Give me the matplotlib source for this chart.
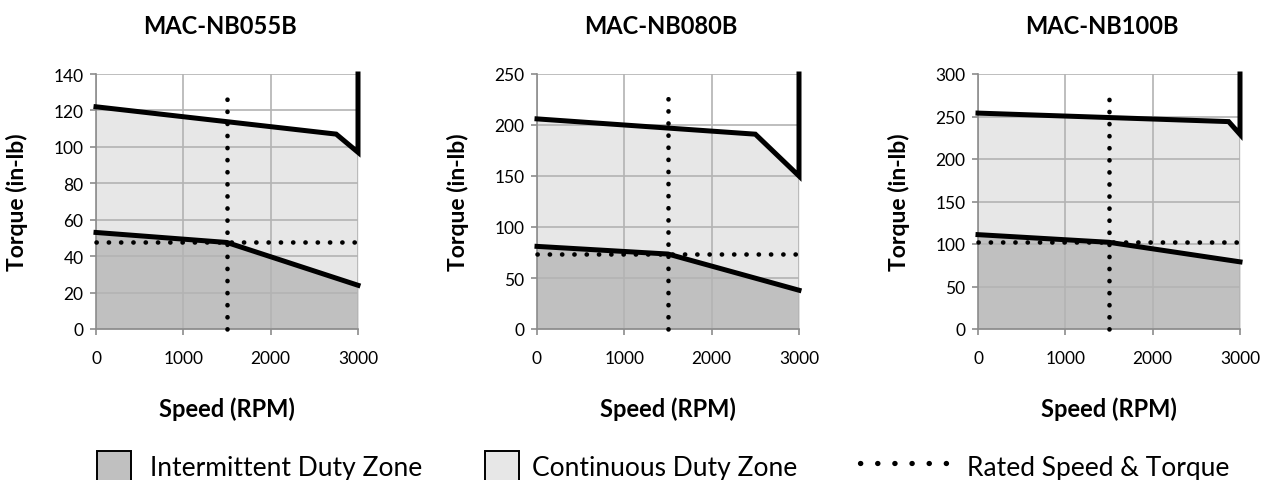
import numpy as np
import matplotlib
matplotlib.use("Agg")
import matplotlib.pyplot as plt
from matplotlib.patches import Patch
from matplotlib.lines import Line2D

plt.rcParams["font.family"] = ["Lato", "DejaVu Sans"]

# ---- data ----
titles = ["MAC-NB055B", "MAC-NB080B", "MAC-NB100B"]
y_max = [140, 250, 300]
y_step = [20, 50, 50]
x_ticks = [0, 1000, 2000, 3000]

# upper (peak) torque curves, ending with the vertical edge at 3000 RPM
nb055_upper_rpm = [0, 2750, 3000, 3000]
nb055_upper_tq = [122, 107, 97, 140]
nb080_upper_rpm = [0, 2500, 3000, 3000]
nb080_upper_tq = [206, 191, 150, 250]
nb100_upper_rpm = [0, 2870, 3000, 3000]
nb100_upper_tq = [254, 244, 229, 300]

# lower (continuous) torque curves
nb055_lower_rpm = [0, 1500, 3000]
nb055_lower_tq = [53, 47.5, 24]
nb080_lower_rpm = [0, 1500, 3000]
nb080_lower_tq = [81, 73.5, 38]
nb100_lower_rpm = [0, 1500, 3000]
nb100_lower_tq = [111, 102, 79]

# rated speed / torque
rated_speed = [1500, 1500, 1500]
rated_torque = [47.5, 73.5, 102]
rated_line_top = [128, 229, 274]

uppers = [(nb055_upper_rpm, nb055_upper_tq), (nb080_upper_rpm, nb080_upper_tq),
          (nb100_upper_rpm, nb100_upper_tq)]
lowers = [(nb055_lower_rpm, nb055_lower_tq), (nb080_lower_rpm, nb080_lower_tq),
          (nb100_lower_rpm, nb100_lower_tq)]

DARK = "#c0c0c0"
LIGHT = "#e7e7e7"
GRID = "#b3b3b3"
AXIS = "#8c8c8c"

W, H = 1264, 481
fig = plt.figure(figsize=(W / 100, H / 100), dpi=100)

lefts_px = [96, 537, 978]
ax_w, ax_top, ax_bot = 262, 75, 330
DOT_LW = 3.3
DOT_STEP_PX = 12.3


def dotted(length_px):
    # dash pattern whose dots land on both ends of a line of given pixel length
    n = max(round(length_px / DOT_STEP_PX), 1)
    period_pt = (length_px / n) * 0.985 * 72 / 100
    return (0, (0.05, period_pt / DOT_LW - 0.05))


for i, lp in enumerate(lefts_px):
    ax = fig.add_axes([lp / W, 1 - ax_bot / H, ax_w / W, (ax_bot - ax_top) / H])
    urpm, utq = uppers[i]
    lrpm, ltq = lowers[i]

    xs = np.array(sorted(set(urpm[:-1]) | set(lrpm)), dtype=float)
    lo = np.interp(xs, lrpm, ltq)
    up = np.interp(xs, urpm[:-1], utq[:-1])
    ax.fill_between(xs, 0, lo, color=DARK, lw=0, zorder=0.2)
    ax.fill_between(xs, lo, up, color=LIGHT, lw=0, zorder=0.2)

    ax.plot(urpm, utq, color="black", lw=3.6, solid_joinstyle="miter",
            zorder=3, clip_on=False)
    ax.plot(lrpm, ltq, color="black", lw=3.6, zorder=3, clip_on=False)

    h_len = ax_w
    v_len = rated_line_top[i] / y_max[i] * (ax_bot - ax_top)
    ax.plot([0, 3000], [rated_torque[i], rated_torque[i]], color="black",
            lw=DOT_LW, linestyle=dotted(h_len), dash_capstyle="round",
            zorder=4, clip_on=False)
    ax.plot([rated_speed[i], rated_speed[i]], [0, rated_line_top[i]], color="black",
            lw=DOT_LW, linestyle=dotted(v_len), dash_capstyle="round",
            zorder=4, clip_on=False)

    ax.set_xlim(0, 3000)
    ax.set_ylim(0, y_max[i])
    ax.set_xticks(x_ticks)
    ax.set_yticks(np.arange(0, y_max[i] + 1, y_step[i]))
    ax.set_axisbelow(True)
    ax.grid(True, color=GRID, lw=1.2)
    for side in ["top", "right"]:
        ax.spines[side].set_visible(False)
    for side in ["left", "bottom"]:
        ax.spines[side].set_color(AXIS)
        ax.spines[side].set_linewidth(1.2)
    ax.tick_params(colors=AXIS, labelcolor="black", labelsize=12.5,
                   length=4, width=1.2)
    ax.tick_params(axis="x", pad=11)
    ax.tick_params(axis="y", pad=5)

    ax.set_xlabel("Speed (RPM)", fontsize=17, fontweight="bold")
    ax.xaxis.set_label_coords(0.5, -0.265)
    ax.set_ylabel("Torque (in-lb)", fontsize=16.5, fontweight="bold")
    ax.yaxis.set_label_coords(-0.258, 0.5)

    fig.text((lp + ax_w / 2 - 7) / W, 1 - 26 / H, titles[i],
             fontsize=17, fontweight="bold", ha="center", va="center")

# ---- legend row ----
legend_items = [
    (Patch(facecolor=DARK, edgecolor="black", lw=1.4), "Intermittent Duty Zone",
     97, 1.29, 0.72),
    (Patch(facecolor=LIGHT, edgecolor="black", lw=1.4), "Continuous Duty Zone",
     485, 1.29, 0.5),
    (Line2D([], [], color="black", lw=3.8, linestyle=(0, (0.05, 3.2)),
            dash_capstyle="round"), "Rated Speed & Torque", 860, 3.25, 0.8),
]
for handle, label, xpx, hl, pad in legend_items:
    fig.legend([handle], [label], loc="center left",
               bbox_to_anchor=(xpx / W, 1 - 467 / H), frameon=False,
               fontsize=19, handlelength=hl, handleheight=1.36,
               handletextpad=pad, borderpad=0, borderaxespad=0)

fig.savefig("out.png", dpi=100)
